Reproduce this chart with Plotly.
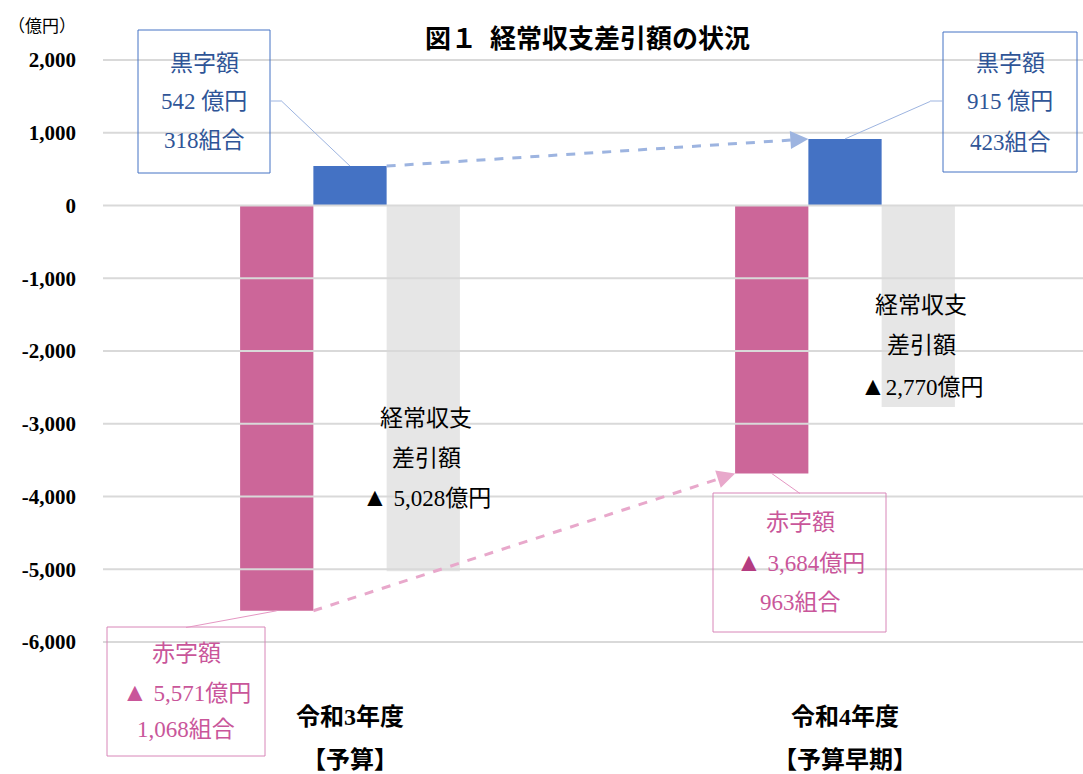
import plotly.graph_objects as go

# ---------------- data ----------------
categories = ["令和3年度", "令和4年度"]
category_notes = ["【予算】", "【予算早期】"]
deficit = [-5571, -3684]          # 赤字額 (億円)
surplus = [542, 915]              # 黒字額 (億円)
net_balance = [-5028, -2770]      # 経常収支差引額 (億円)
deficit_unions = [1068, 963]      # 赤字組合数
surplus_unions = [318, 423]       # 黒字組合数
y_ticks = [2000, 1000, 0, -1000, -2000, -3000, -4000, -5000, -6000]
y_tick_labels = [f"{v:,}" for v in y_ticks]

# ---------------- style ----------------
RED = "#CC6699"
BLUE = "#4472C4"
GRAY = "#E6E6E6"
GRID = "#D9D9D9"
BLUE_TXT = "#2F5597"
PINK_TXT = "#C9569A"
PINK_TRI = "#B43C80"
BLUE_LINE = "#9DB4E0"
PINK_LINE = "#E8A8CB"
FONT = "'Liberation Serif', 'Noto Sans CJK JP', serif"

BAR_W = 0.148
x_pos = list(range(len(categories)))

# pixel geometry: y=2000 at 60px, y=-6000 at 642px; plot spans x 103..1083
PX_PER_UNIT = 582 / 8000
T = 44
Y_TOP = 2000 + (60 - T) / PX_PER_UNIT
BOTTOM_PX = 660
Y_BOT = -6000 - (BOTTOM_PX - 642) / PX_PER_UNIT
H = BOTTOM_PX - T
L, W = 103, 980
X_C0, X_STEP = 350, 495
Y_ZERO = 205


def px(x):
    return (x - L) / W


def py(y):
    return (T + H - y) / H


def dx(x):
    return (x - X_C0) / X_STEP


def dy(y):
    return (Y_ZERO - y) / PX_PER_UNIT


X_MIN, X_MAX = dx(L), dx(L + W)

fig = go.Figure()
# horizontal gridlines drawn as line traces (below the bars)
for v in y_ticks:
    fig.add_scatter(x=[X_MIN, X_MAX], y=[v, v], mode="lines",
                    line=dict(color=GRID, width=2), hoverinfo="skip",
                    showlegend=False, cliponaxis=False)
fig.add_bar(x=x_pos, y=deficit, width=BAR_W, offset=-1.5 * BAR_W,
            marker=dict(color=RED, line=dict(width=0)), name="赤字額")
fig.add_bar(x=x_pos, y=surplus, width=BAR_W, offset=-0.5 * BAR_W,
            marker=dict(color=BLUE, line=dict(width=0)), name="黒字額")
fig.add_bar(x=x_pos, y=net_balance, width=BAR_W, offset=0.5 * BAR_W,
            marker=dict(color=GRAY, line=dict(width=0)), name="経常収支差引額")

shapes = []
annotations = []


def text(x, y, s, color="black", size=23, xref="paper", bold=False):
    if bold:
        s = f"<b>{s}</b>"
    annotations.append(dict(x=x, y=y, xref=xref, yref="paper", text=s,
                            showarrow=False, xanchor="center", yanchor="middle",
                            font=dict(family=FONT, size=size, color=color)))


TRI = "<span style='font-size:26px'>▲</span>"

# title and unit
text(px(587), py(40), "図１  経常収支差引額の状況", size=26, bold=True)
annotations.append(dict(x=px(6), y=py(27), xref="paper", yref="paper",
                        text="（億円）", showarrow=False, xanchor="left", yanchor="middle",
                        font=dict(family=FONT, size=17, color="black")))

# category labels
for i, (c, n) in enumerate(zip(categories, category_notes)):
    text(i, py(717), c, size=24, xref="x", bold=True)
    text(i, py(760), n, size=24, xref="x", bold=True)

# surplus boxes (blue)
blue_boxes = [dict(x0=138, x1=270, y0=30, y1=173, cx=204, ys=[63, 101, 141],
                   hook=(282, 101), edge=270),
              dict(x0=943, x1=1077, y0=32, y1=172, cx=1010, ys=[63, 102, 142],
                   hook=(930, 101), edge=943)]
for i, b in enumerate(blue_boxes):
    shapes.append(dict(type="rect", xref="paper", yref="paper",
                       x0=px(b["x0"]), x1=px(b["x1"]), y0=py(b["y1"]), y1=py(b["y0"]),
                       line=dict(color=BLUE, width=1), fillcolor="rgba(0,0,0,0)"))
    lines = ["黒字額", f"{surplus[i]:,} 億円", f"{surplus_unions[i]:,}組合"]
    for s, yy in zip(lines, b["ys"]):
        text(px(b["cx"]), py(yy), s, color=BLUE_TXT)
    shapes.append(dict(type="line", xref="paper", yref="paper",
                       x0=px(b["edge"]), y0=py(b["hook"][1]),
                       x1=px(b["hook"][0]), y1=py(b["hook"][1]),
                       line=dict(color=BLUE_LINE, width=1)))
    shapes.append(dict(type="line", xref="x", yref="y",
                       x0=dx(b["hook"][0]), y0=dy(b["hook"][1]),
                       x1=x_pos[i], y1=surplus[i],
                       line=dict(color=BLUE_LINE, width=1)))

# deficit boxes (pink)
pink_boxes = [dict(x0=107, x1=265, y0=627, y1=756, cx=186, ys=[653, 692, 730], top=(186, 627)),
              dict(x0=713, x1=886, y0=493, y1=632, cx=800, ys=[522, 562, 602], top=(800, 493))]
for i, b in enumerate(pink_boxes):
    shapes.append(dict(type="rect", xref="paper", yref="paper",
                       x0=px(b["x0"]), x1=px(b["x1"]), y0=py(b["y1"]), y1=py(b["y0"]),
                       line=dict(color="#D886B8", width=1), fillcolor="rgba(0,0,0,0)"))
    tri_col = PINK_TXT if i == 0 else PINK_TRI
    lines = ["赤字額",
             f"<span style='color:{tri_col};font-size:26px'>▲</span> {-deficit[i]:,}億円",
             f"{deficit_unions[i]:,}組合"]
    for s, yy in zip(lines, b["ys"]):
        text(px(b["cx"]), py(yy), s, color=PINK_TXT)
    shapes.append(dict(type="line", xref="x", yref="y",
                       x0=dx(b["top"][0]), y0=dy(b["top"][1]),
                       x1=x_pos[i] - BAR_W, y1=deficit[i],
                       line=dict(color="#E597C3", width=1)))

# net balance labels
net_pos = [dict(cx=426, ys=[418, 458, 497], sep=" "), dict(cx=921, ys=[305, 345, 386], sep="")]
for i, p in enumerate(net_pos):
    lines = ["経常収支", "差引額", f"{TRI}{p['sep']}{-net_balance[i]:,}億円"]
    for s, yy in zip(lines, p["ys"]):
        text(px(p["cx"]), py(yy), s, color="black")


def dashed_arrow(x0, y0, x1, y1, color):
    f = 0.97
    xm = x0 + (x1 - x0) * f
    ym = y0 + (y1 - y0) * f
    shapes.append(dict(type="line", xref="x", yref="y", x0=x0, y0=y0, x1=xm, y1=ym,
                       line=dict(color=color, width=3, dash="dash")))
    annotations.append(dict(x=x1, y=y1, ax=xm, ay=ym, xref="x", yref="y",
                            axref="x", ayref="y", text="", showarrow=True,
                            arrowhead=2, arrowsize=1.2, arrowwidth=3,
                            arrowcolor=color, standoff=0, startstandoff=0))


dashed_arrow(x_pos[0] + 0.5 * BAR_W, surplus[0], x_pos[1] - 0.5 * BAR_W, surplus[1], BLUE_LINE)
dashed_arrow(x_pos[0] - 0.5 * BAR_W, deficit[0], x_pos[1] - 1.5 * BAR_W, deficit[1], PINK_LINE)

fig.update_layout(
    width=1083, height=774,
    margin=dict(l=L, r=1083 - L - W, t=T, b=774 - BOTTOM_PX, autoexpand=False),
    paper_bgcolor="white", plot_bgcolor="white",
    barmode="overlay", showlegend=False,
    shapes=shapes, annotations=annotations,
    font=dict(family=FONT, color="black"),
    xaxis=dict(range=[X_MIN, X_MAX], showticklabels=False, showgrid=False,
               zeroline=False, showline=False, fixedrange=True),
    yaxis=dict(range=[Y_BOT, Y_TOP], tickvals=y_ticks, ticktext=y_tick_labels,
               tickfont=dict(family=FONT, size=21, color="black", weight="bold"),
               showgrid=False, zeroline=False,
               showline=False, ticks="", ticklabelstandoff=26, fixedrange=True,
               automargin=False),
)

fig.write_html("out.html")
